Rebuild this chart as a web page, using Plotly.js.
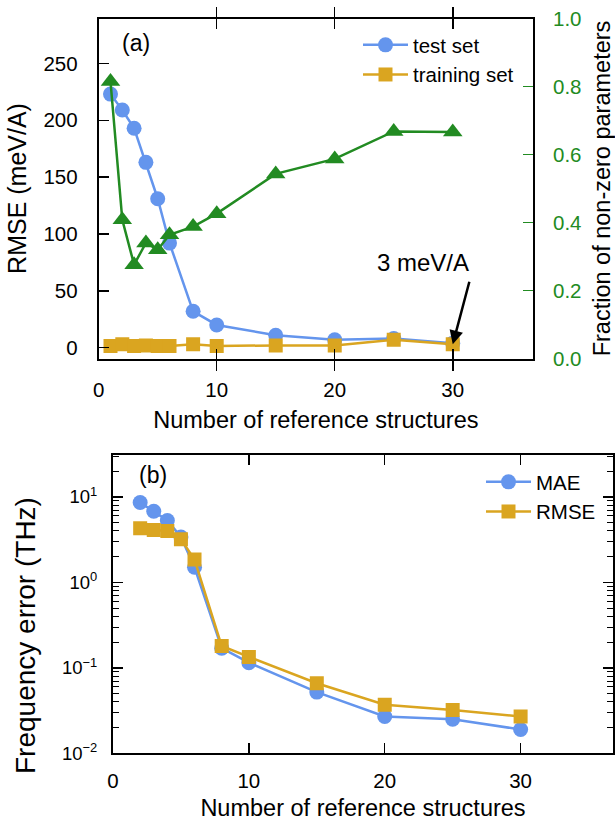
<!DOCTYPE html>
<html>
<head>
<meta charset="utf-8">
<script src="https://cdn.plot.ly/plotly-3.0.1.min.js"></script>
<style>html,body{margin:0;padding:0;background:#fff;}#chart{width:615px;height:821px;}</style>
</head>
<body>
<div id="chart"></div>
<script>
// ---- Panel (a) data ----
const refA = [1, 2, 3, 4, 5, 6, 8, 10, 15, 20, 25, 30];
const rmseTest = [223, 209, 193, 163, 131, 92, 32, 20, 11, 7, 8, 4];
const rmseTrain = [1.5, 3, 1.5, 2, 1.5, 1.5, 3, 1.5, 2, 2, 7, 3];
const fracNonZero = [0.815, 0.408, 0.276, 0.34, 0.32, 0.364, 0.388, 0.426, 0.543, 0.587, 0.668, 0.666];

// ---- Panel (b) data ----
const refB = [2, 3, 4, 5, 6, 8, 10, 15, 20, 25, 30];
const maeFreq = [8.6, 6.8, 5.3, 3.4, 1.5, 0.17, 0.115, 0.052, 0.027, 0.025, 0.019];
const rmseFreq = [4.3, 4.1, 4.0, 3.2, 1.85, 0.18, 0.134, 0.066, 0.037, 0.032, 0.027];

const xTicks = [0, 10, 20, 30];
const yTicksA = [0, 50, 100, 150, 200, 250];
const yTicksA2 = [0, 0.2, 0.4, 0.6, 0.8, 1.0];
const logTickVals = [0.01, 0.1, 1, 10];
const logTickText = ['10<sup>\u22122</sup>', '10<sup>\u22121</sup>', '10<sup>0</sup>', '10<sup>1</sup>'];

const BLUE = '#6495ED', GOLD = '#DAA520', GREEN = '#228B22';
const FONT = 'Liberation Sans, Arial, Helvetica, sans-serif';

// minor ticks for log axis (2..9 per decade)
const minorVals = [];
[0.01, 0.1, 1, 10].forEach(d => { for (let k = 2; k <= 9; k++) minorVals.push(d * k); });

const traces = [
  {x: refA, y: rmseTest, name: 'test set', mode: 'lines+markers', xaxis: 'x', yaxis: 'y',
   line: {color: BLUE, width: 2.5}, marker: {color: BLUE, size: 15, symbol: 'circle'}, legend: 'legend'},
  {x: refA, y: rmseTrain, name: 'training set', mode: 'lines+markers', xaxis: 'x', yaxis: 'y',
   line: {color: GOLD, width: 2.5}, marker: {color: GOLD, size: 14, symbol: 'square'}, legend: 'legend'},
  {x: refA, y: fracNonZero, name: 'fraction', mode: 'lines+markers', xaxis: 'x', yaxis: 'y2',
   line: {color: GREEN, width: 2.5}, marker: {color: GREEN, size: 17, symbol: 'triangle-up'}, showlegend: false},
  {x: refB, y: maeFreq, name: 'MAE', mode: 'lines+markers', xaxis: 'x2', yaxis: 'y3',
   line: {color: BLUE, width: 2.5}, marker: {color: BLUE, size: 15, symbol: 'circle'}, legend: 'legend2'},
  {x: refB, y: rmseFreq, name: 'RMSE', mode: 'lines+markers', xaxis: 'x2', yaxis: 'y3',
   line: {color: GOLD, width: 2.5}, marker: {color: GOLD, size: 14, symbol: 'square'}, legend: 'legend2'}
];

const tickFont = {family: FONT, size: 20.5, color: '#000'};
const titleFont = {family: FONT, size: 23.5, color: '#000'};

const layout = {
  width: 615, height: 821,
  margin: {l: 0, r: 0, t: 0, b: 0},
  paper_bgcolor: '#fff', plot_bgcolor: '#fff',
  font: {family: FONT, color: '#000'},
  xaxis: {
    domain: [98.7/615, 533/615], anchor: 'y', range: [0, 36.8],
    tickvals: xTicks, ticks: 'inside', ticklen: 10, tickwidth: 1.5, tickcolor: '#000',
    showline: true, linecolor: '#000', linewidth: 2, mirror: 'allticks', showgrid: false, zeroline: false,
    tickfont: tickFont, ticklabelstandoff: 12,
    title: {text: 'Number of reference structures', font: titleFont, standoff: 11}
  },
  yaxis: {
    domain: [(821-358.5)/821, (821-18.5)/821], anchor: 'x', range: [-9.5, 289.5],
    tickvals: yTicksA, ticks: 'inside', ticklen: 10, tickwidth: 1.5, tickcolor: '#000',
    showline: true, linecolor: '#000', linewidth: 2, mirror: true, showgrid: false, zeroline: false,
    tickfont: tickFont, ticklabelstandoff: 15,
    title: {text: 'RMSE (meV/A)', font: {family: FONT, size: 25, color: '#000'}, standoff: 10}
  },
  yaxis2: {
    overlaying: 'y', side: 'right', anchor: 'x', range: [0, 1],
    tickvals: yTicksA2, tickformat: '.1f', ticks: 'inside', ticklen: 10, tickwidth: 1.5, tickcolor: GREEN,
    showline: false, showgrid: false, zeroline: false,
    tickfont: {family: FONT, size: 20.5, color: GREEN}, ticklabelstandoff: 19,
    title: {text: 'Fraction of non-zero parameters', font: titleFont, standoff: 15}
  },
  xaxis2: {
    domain: [113/615, 613/615], anchor: 'y3', range: [0, 36.8],
    tickvals: xTicks, ticks: 'inside', ticklen: 10, tickwidth: 1.5, tickcolor: '#000',
    showline: true, linecolor: '#000', linewidth: 2, mirror: 'allticks', showgrid: false, zeroline: false,
    tickfont: tickFont, ticklabelstandoff: 8,
    title: {text: 'Number of reference structures', font: titleFont, standoff: 15}
  },
  yaxis3: {
    domain: [(821-753.3)/821, (821-455)/821], anchor: 'x2', type: 'log', range: [-2, 1.49],
    tickvals: logTickVals, ticktext: logTickText, ticks: 'inside', ticklen: 10, tickwidth: 1.5, tickcolor: '#000',
    minor: {tickmode: 'array', tickvals: minorVals, ticks: 'inside', ticklen: 6, tickwidth: 1, tickcolor: '#000', showgrid: false},
    showline: true, linecolor: '#000', linewidth: 2, mirror: 'allticks', showgrid: false, zeroline: false,
    tickfont: {family: FONT, size: 18.5, color: '#000'}, ticklabelstandoff: 10
  },
  legend: {
    x: 358/615, y: (821-25)/821, xanchor: 'left', yanchor: 'top', itemwidth: 45,
    bgcolor: 'rgba(0,0,0,0)', font: {family: FONT, size: 20.5, color: '#000'}, tracegroupgap: 0
  },
  legend2: {
    x: 481/615, y: (821-462)/821, xanchor: 'left', yanchor: 'top', itemwidth: 45,
    bgcolor: 'rgba(0,0,0,0)', font: {family: FONT, size: 20.5, color: '#000'}
  },
  annotations: [
    {xref: 'paper', yref: 'paper', x: 25/615, y: (821-636)/821, text: 'Frequency error (THz)', textangle: -90,
     showarrow: false, font: {family: FONT, size: 28, color: '#000'}, xanchor: 'center', yanchor: 'middle'},
    {xref: 'paper', yref: 'paper', x: 136/615, y: (821-43)/821, text: '(a)', showarrow: false,
     font: {family: FONT, size: 23, color: '#000'}, xanchor: 'center', yanchor: 'middle'},
    {xref: 'paper', yref: 'paper', x: 153/615, y: (821-475)/821, text: '(b)', showarrow: false,
     font: {family: FONT, size: 23, color: '#000'}, xanchor: 'center', yanchor: 'middle'},
    {xref: 'x', yref: 'y', x: 27.5, y: 75, text: '3 meV/A', showarrow: false,
     font: {family: FONT, size: 24, color: '#000'}, xanchor: 'center', yanchor: 'middle'},
    {xref: 'x', yref: 'y', x: 30, y: rmseTrain[rmseTrain.length - 1], text: '', showarrow: true,
     ax: 17, ay: -64, arrowhead: 2, arrowsize: 1.1, arrowwidth: 2.5, arrowcolor: '#000', standoff: 0}
  ]
};

Plotly.newPlot('chart', traces, layout, {displayModeBar: false, staticPlot: true});
</script>
</body>
</html>
